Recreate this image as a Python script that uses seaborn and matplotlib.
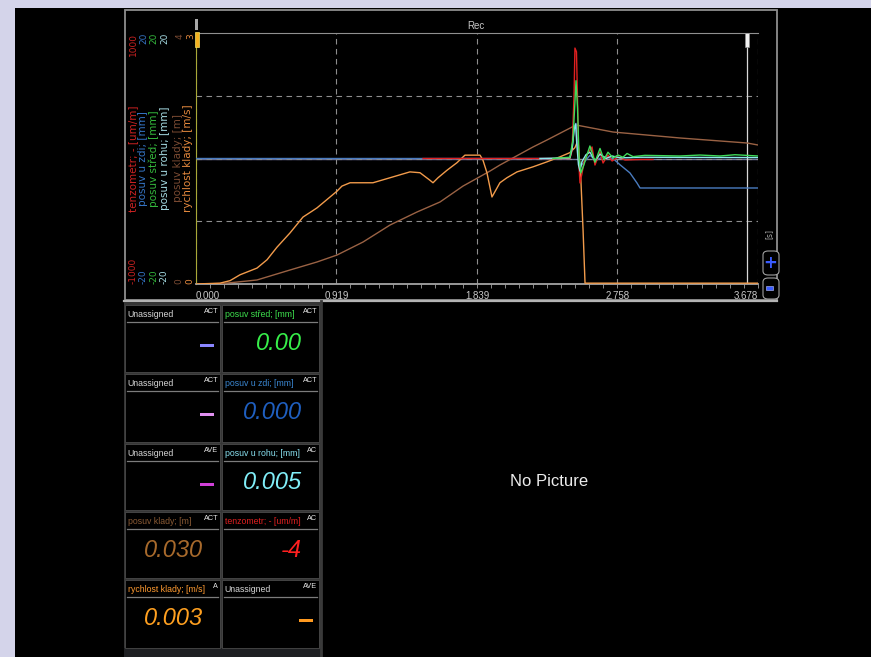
import matplotlib
matplotlib.use("Agg")
import matplotlib.pyplot as plt
from matplotlib import font_manager
from matplotlib.patches import Rectangle, FancyBboxPatch
from matplotlib.lines import Line2D
from matplotlib.ticker import MultipleLocator
import seaborn as sns

W, H = 871, 657

# ---------------- record time base [s] ----------------
time_ticks = [0.000, 0.919, 1.839, 2.758, 3.678]
time_tick_labels = ["0.000", "0.919", "1.839", "2.758", "3.678"]

# ---------------- channels ----------------
# rychlost klady [m/s]
rychlost_t = [0.000, 0.157, 0.223, 0.288, 0.399, 0.465, 0.530, 0.615, 0.700, 0.759,
              0.792, 0.923, 0.955, 1.008, 1.158, 1.270, 1.400, 1.466, 1.531, 1.551,
              1.584, 1.643, 1.708, 1.760, 1.859, 1.878, 1.904, 1.937, 1.989, 2.035,
              2.101, 2.205, 2.297, 2.382, 2.447, 2.480, 2.500, 2.519, 2.533, 2.546, 3.678]
rychlost_v = [0.00, 0.01, 0.04, 0.11, 0.19, 0.29, 0.44, 0.61, 0.80, 0.87,
              0.91, 1.11, 1.17, 1.21, 1.21, 1.27, 1.34, 1.33, 1.24, 1.21,
              1.27, 1.36, 1.45, 1.54, 1.54, 1.48, 1.33, 1.04, 1.21, 1.27,
              1.34, 1.40, 1.46, 1.52, 1.57, 1.63, 1.72, 1.24, 0.65, 0.01, 0.01]

# posuv klady [m]
klady_t = [0.000, 0.177, 0.399, 0.615, 0.792, 0.923, 1.093, 1.270, 1.446, 1.597,
           1.747, 1.924, 1.989, 2.205, 2.297, 2.487, 2.729, 3.167, 3.606, 3.678]
klady_p = [0.000, 0.008, 0.064, 0.223, 0.351, 0.462, 0.669, 0.940, 1.147, 1.307,
           1.560, 1.800, 1.896, 2.183, 2.295, 2.534, 2.422, 2.327, 2.247, 2.215]

# tenzometr [um/m]
tenzometr_t = [1.486, 2.447, 2.461, 2.474, 2.480, 2.490, 2.500, 2.506, 2.513, 2.526,
               2.539, 2.559, 2.592, 2.611, 2.644, 2.664, 2.696, 2.723, 2.762, 2.808,
               2.906, 2.991]
tenzometr_e = [0, 0, 60, 500, 880, 850, 300, -50, -195, -120,
               -30, 28, 92, -52, 52, -36, 28, -20, 12, -12,
               -8, -8]

# posuv u zdi [mm]
zdi_t = [0.000, 2.447, 2.464, 2.477, 2.487, 2.497, 2.506, 2.519, 2.539, 2.578,
         2.618, 2.664, 2.729, 2.775, 2.840, 2.886, 2.906, 3.678]
zdi_d = [0.0, 0.0, 2.0, 5.0, 5.6, 2.5, -0.5, -1.2, -0.6, 0.5,
         -0.3, 0.3, 0.0, -1.0, -2.3, -3.9, -4.7, -4.7]

# posuv u rohu [mm]
rohu_t = [2.251, 2.447, 2.461, 2.474, 2.484, 2.493, 2.503, 2.513, 2.526, 2.552,
          2.578, 2.611, 2.644, 2.683, 2.723, 2.775, 2.906, 3.678]
rohu_d = [0.0, 0.1, 1.5, 4.5, 5.5, 2.0, -1.0, -2.0, -0.5, 0.6,
          1.0, -0.4, 0.7, 0.0, 0.4, 0.1, 0.2, 0.15]

# posuv stred [mm]
stred_t = [2.336, 2.447, 2.467, 2.480, 2.487, 2.497, 2.506, 2.519, 2.539, 2.559,
           2.578, 2.611, 2.644, 2.670, 2.696, 2.729, 2.762, 2.794, 2.821, 2.860,
           2.938, 3.167, 3.298, 3.429, 3.527, 3.678]
stred_d = [0.0, 0.2, 3.0, 9.0, 12.4, 8.0, 0.5, -2.3, -1.0, 0.6,
           2.0, -0.6, 1.6, -0.2, 1.0, 0.1, 0.55, 0.2, 0.8, 0.3,
           0.5, 0.4, 0.55, 0.4, 0.6, 0.4]

# axis captions, ranges and colours of the stacked y scales
axis_names = ["tenzometr; - [um/m]", "posuv u zdi; [mm]", "posuv střed; [mm]",
              "posuv u rohu; [mm]", "posuv klady; [m]", "rychlost klady; [m/s]"]
axis_top = ["1000", "20", "20", "20", "4", "3"]
axis_bottom = ["-1000", "-20", "-20", "-20", "0", "0"]
axis_limits = [(-1000, 1000), (-20, 20), (-20, 20), (-20, 20), (0, 4), (0, 3)]
axis_colors = ["#cc2222", "#3574c4", "#34b83c", "#a6dce4", "#7a4a32", "#e68a3e"]
line_colors = ["#e02020", "#4a7cc0", "#3fdc5a", "#8ce8ec", "#9a6244", "#f29b4b"]

# readout panel
cell_titles = [["Unassigned", "posuv střed; [mm]"],
               ["Unassigned", "posuv u zdi; [mm]"],
               ["Unassigned", "posuv u rohu; [mm]"],
               ["posuv klady; [m]", "tenzometr; - [um/m]"],
               ["rychlost klady; [m/s]", "Unassigned"]]
cell_modes = [["ACT", "ACT"], ["ACT", "ACT"], ["AVE", "AC"], ["ACT", "AC"], ["A", "AVE"]]
cell_values = [[None, "0.00"], [None, "0.000"], [None, "0.005"], ["0.030", "-4"], ["0.003", None]]
cell_title_colors = [["#d6d6d6", "#3ee04e"], ["#d6d6d6", "#3a86d0"], ["#d6d6d6", "#88e0f0"],
                     ["#8a5a34", "#e02020"], ["#ff9a30", "#d6d6d6"]]
cell_value_colors = [[None, "#37f04a"], [None, "#1f5fc0"], [None, "#80eef8"],
                     ["#a86a2c", "#ff2020"], ["#ffa020", None]]
cell_dash_colors = [["#8a86ff", None], ["#e090f0", None], ["#d040d8", None],
                    [None, None], [None, "#ff9a20"]]

# ---------------- fonts ----------------
available = {f.name for f in font_manager.fontManager.ttflist}
NARROW = "Liberation Sans Narrow" if "Liberation Sans Narrow" in available else "Liberation Sans"
DIGIT_SIZE = 20 if NARROW == "Liberation Sans Narrow" else 17
TITLE_SIZE = 7.2 if NARROW == "Liberation Sans Narrow" else 6.3
plt.rcParams["font.family"] = ["DejaVu Sans"]

fig = plt.figure(figsize=(W / 100, H / 100), dpi=100, facecolor="#d4d4ea")


def fig_rect(x0, y0, x1, y1, **kw):
    fig.add_artist(Rectangle((x0 / W, 1 - y1 / H), (x1 - x0) / W, (y1 - y0) / H,
                             transform=fig.transFigure, **kw))


def fig_text(x, y, s, **kw):
    fig.text(x / W, 1 - y / H, s, **kw)


def fig_line(xs, ys, **kw):
    fig.add_artist(Line2D([x / W for x in xs], [1 - y / H for y in ys],
                          transform=fig.transFigure, **kw))


# screen backdrop and chart frame
fig_rect(15, 8, W + 2, H + 2, facecolor="black", edgecolor="none", zorder=-10)
fig_rect(124.5, 10.5, 777, 300, facecolor="black", edgecolor="#8e8e8e", lw=1.3, zorder=-9)
fig_line([124, 777], [300.5, 300.5], color="#b4b4b4", lw=1.6, zorder=-8)

# ---------------- chart ----------------
ax = fig.add_axes([196 / W, 1 - 284 / H, (758 - 196) / W, (284 - 33) / H])
ax.set_facecolor("black")
ax.set_axisbelow(True)

order = [4, 5, 1, 0, 3, 2]  # klady, rychlost, zdi, tenzometr, rohu, stred
series_t = [tenzometr_t, zdi_t, stred_t, rohu_t, klady_t, rychlost_t]
series_y = [tenzometr_e, zdi_d, stred_d, rohu_d, klady_p, rychlost_v]
for i in order:
    tw = ax.twinx()
    sns.lineplot(x=series_t[i], y=series_y[i], ax=tw, color=line_colors[i],
                 linewidth=1.0, estimator=None, sort=False, legend=False)
    tw.set_ylim(*axis_limits[i])
    tw.set_axis_off()

ax.set_xlim(time_ticks[0], time_ticks[-1])
ax.set_ylim(*axis_limits[0])
ax.set_xticks(time_ticks)
ax.set_xticklabels(time_tick_labels)
ax.xaxis.set_minor_locator(MultipleLocator(0.0919))
ax.set_yticks([-500, 0, 500])
ax.set_yticklabels([])
ax.tick_params(axis="y", length=0)
ax.tick_params(axis="x", which="major", length=0, pad=5, labelsize=7, labelcolor="#c8c8c8")
ax.tick_params(axis="x", which="minor", length=3, color="#8a8a8a", width=0.7)
for lab in ax.get_xticklabels():
    lab.set_fontfamily(NARROW)
ax.get_xticklabels()[0].set_ha("left")
ax.get_xticklabels()[-1].set_ha("right")
ax.grid(True, which="major", color="#8e8e8e", linestyle=(0, (5, 4)), linewidth=0.8)
ax.axhline(0, color="#70709a", lw=1.0, zorder=0.5)
ax.spines["top"].set_color("#909090")
ax.spines["bottom"].set_color("#a4a4a4")
ax.spines["bottom"].set_linewidth(1.3)
ax.spines["left"].set_color("#a8a838")
ax.spines["right"].set_visible(False)

# cursors
ax.axvline(3.609, color="#d8d8d8", lw=0.9)
fig_rect(744.5, 33, 748.5, 47, facecolor="#f0f0f0", edgecolor="#909090", lw=0.5, zorder=5)
fig_rect(194.5, 32, 198.5, 47, facecolor="#f4b020", edgecolor="#f0e060", lw=0.5, zorder=5)
fig_rect(195, 19, 198, 30, facecolor="#a8a8a8", edgecolor="none", zorder=5)

fig_text(476, 26, "Rec", ha="center", va="center", color="#c8c8c8", fontsize=7,
         family="Liberation Sans")

# stacked y scale captions
label_x = [133, 143.5, 154, 164.5, 178, 188]
top_x = [133, 143.5, 154, 164.5, 180, 191]
bottom_x = [133, 143.5, 154, 164.5, 179, 189.5]
for i in range(6):
    fig_text(label_x[i], 158.5, axis_names[i], rotation=90, ha="center", va="center",
             color=axis_colors[i], fontsize=7.5)
    fig_text(top_x[i], 33, axis_top[i], rotation=90, ha="center", va="top",
             color=axis_colors[i], fontsize=6.5)
    fig_text(bottom_x[i], 284, axis_bottom[i], rotation=90, ha="center", va="bottom",
             color=axis_colors[i], fontsize=6.5)

# zoom controls on the right edge
fig_text(769, 234, "[s]", rotation=90, ha="center", va="center", color="#a8a8a8", fontsize=5.5)
fig.add_artist(FancyBboxPatch((763 / W, 1 - 275 / H), 16 / W, 24 / H,
                              boxstyle="round,pad=0,rounding_size=0.006",
                              transform=fig.transFigure, facecolor="black",
                              edgecolor="#a0a0a0", lw=0.8, zorder=4))
fig_text(770, 263, "+", ha="center", va="center", color="#3a5cff", fontsize=12,
         fontweight="bold", zorder=5)
fig.add_artist(FancyBboxPatch((763 / W, 1 - 299 / H), 16 / W, 21 / H,
                              boxstyle="round,pad=0,rounding_size=0.006",
                              transform=fig.transFigure, facecolor="black",
                              edgecolor="#a0a0a0", lw=0.8, zorder=4))
fig_rect(765.5, 286, 773, 290, facecolor="#3a5cff", edgecolor="#c0c8ff", lw=0.4, zorder=5)

# ---------------- readout panel ----------------
cols = [(125, 220), (222, 319)]
rows = [(305, 372), (374, 442), (444, 510), (512, 578), (580, 648)]
fig_rect(124, 302, 322, 648, facecolor="#363636", edgecolor="none", zorder=-6)
fig_rect(124, 648, 322, 658, facecolor="#1e1f22", edgecolor="none", zorder=-6)
for r, (y0, y1) in enumerate(rows):
    for c, (x0, x1) in enumerate(cols):
        fig_rect(x0, y0, x1, y1, facecolor="black", edgecolor="#4a4a4a", lw=0.6, zorder=-5)
        fig_line([x0 + 2, x1 - 2], [y0 + 17, y0 + 17], color="#7c7c7c", lw=0.9)
        fig_text(x0 + 2.5, y0 + 9.5, cell_titles[r][c], ha="left", va="center",
                 color=cell_title_colors[r][c], fontsize=TITLE_SIZE, family=NARROW)
        fig_text(x1 - 2, y0 + 6.5, cell_modes[r][c], ha="right", va="center",
                 color="#e8e8e8", fontsize=5.2, family=NARROW)
        if cell_values[r][c] is not None:
            fig_text(x1 - 17, y0 + 38.5, cell_values[r][c], ha="right", va="center",
                     color=cell_value_colors[r][c], fontsize=DIGIT_SIZE,
                     family=NARROW, style="italic")
        if cell_dash_colors[r][c] is not None:
            fig_rect(x1 - 20, y0 + 38.5, x1 - 6, y0 + 41.5,
                     facecolor=cell_dash_colors[r][c], edgecolor="none")

# empty video pane
fig_line([321, 321], [301, 657], color="#3a3a3a", lw=2)
fig_text(549, 482, "No Picture", ha="center", va="center", color="#ececec",
         fontsize=12, family="Liberation Sans")

fig.savefig("out.png", dpi=100, facecolor=fig.get_facecolor())
